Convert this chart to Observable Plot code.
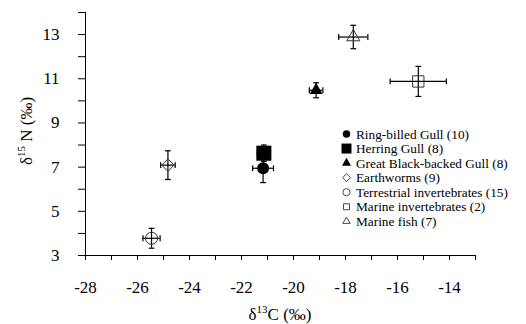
<!DOCTYPE html>
<html>
<head>
<meta charset="utf-8">
<script src="https://cdn.jsdelivr.net/npm/d3@7"></script>
<script src="https://cdn.jsdelivr.net/npm/@observablehq/plot@0.6"></script>
<style>
  html, body { margin: 0; padding: 0; background: #fff; }
  #chart { width: 526px; height: 324px; overflow: hidden; }
  #chart svg, #chart svg text { font-family: "Liberation Serif", "Times New Roman", serif !important; }
</style>
</head>
<body>
<div id="chart"></div>
<script>
// ---- data ----
const groups = ["Ring-billed Gull", "Herring Gull", "Great Black-backed Gull", "Earthworms", "Terrestrial invertebrates", "Marine invertebrates", "Marine fish"];
const sampleSizes = [10, 8, 8, 9, 15, 2, 7];
const d13C = [-21.17, -21.14, -19.13, -24.83, -25.46, -15.20, -17.70];
const d13C_sd = [0.40, 0.25, 0.26, 0.28, 0.33, 1.08, 0.56];
const d15N = [6.95, 7.63, 10.48, 7.09, 3.78, 10.88, 12.89];
const d15N_sd = [0.65, 0.37, 0.34, 0.65, 0.45, 0.68, 0.53];
const xTicks = d3.range(-28, -12);
const yTicks = d3.range(3, 15);

// ---- styles ----
const symbols = ["circle", "square", "triangle", "diamond2", "circle", "square2", "triangle2"];
const d3symbols = [d3.symbolCircle, d3.symbolSquare, d3.symbolTriangle, d3.symbolDiamond2, d3.symbolCircle, d3.symbolSquare2, d3.symbolTriangle2];
const filled = [true, true, true, false, false, false, false];
const radii = [6, 8.5, 4.8, 5.6, 6, 7.2, 6.2];
const drawOrder = [6, 5, 3, 4, 2, 1, 0];

const idx = d3.range(groups.length);
const hCap = { draw(ctx, size) { const r = Math.sqrt(size / Math.PI); ctx.moveTo(-r, 0); ctx.lineTo(r, 0); } };
const vCap = { draw(ctx, size) { const r = Math.sqrt(size / Math.PI); ctx.moveTo(0, -r); ctx.lineTo(0, r); } };

const markerMarks = drawOrder.map(i => Plot.dot([i], {
  x: j => d13C[j], y: j => d15N[j],
  symbol: symbols[i], r: radii[i],
  fill: filled[i] ? "#000" : "none",
  stroke: filled[i] ? "none" : "#333",
  strokeWidth: 1
}));

const svg = Plot.plot({
  width: 526, height: 324,
  marginLeft: 85, marginRight: 51, marginTop: 12, marginBottom: 69,
  style: { fontFamily: "Liberation Serif", fontSize: "17px", color: "#000", background: "#fff" },
  x: { domain: [-28, -13], ticks: xTicks, tickFormat: d => (d % 2 === 0 ? String(d) : ""), tickSize: 5, tickPadding: 20, label: null },
  y: { domain: [3, 14], ticks: yTicks, tickFormat: d => (d % 2 === 1 ? String(d) : ""), tickSize: 7, tickPadding: 19, label: null },
  marks: [
    Plot.ruleX([-28], { stroke: "#000" }),
    Plot.ruleY([3], { stroke: "#000" }),
    // error bars
    Plot.ruleX(idx, { x: i => d13C[i], y1: i => d15N[i] - d15N_sd[i], y2: i => d15N[i] + d15N_sd[i], stroke: "#000", strokeWidth: 1.2 }),
    Plot.ruleY(idx, { y: i => d15N[i], x1: i => d13C[i] - d13C_sd[i], x2: i => d13C[i] + d13C_sd[i], stroke: "#000", strokeWidth: 1.2 }),
    Plot.dot(idx, { x: i => d13C[i], y: i => d15N[i] + d15N_sd[i], symbol: hCap, r: 2.9, stroke: "#000", strokeWidth: 1.2 }),
    Plot.dot(idx, { x: i => d13C[i], y: i => d15N[i] - d15N_sd[i], symbol: hCap, r: 2.9, stroke: "#000", strokeWidth: 1.2 }),
    Plot.dot(idx, { x: i => d13C[i] + d13C_sd[i], y: i => d15N[i], symbol: vCap, r: 2.9, stroke: "#000", strokeWidth: 1.2 }),
    Plot.dot(idx, { x: i => d13C[i] - d13C_sd[i], y: i => d15N[i], symbol: vCap, r: 2.9, stroke: "#000", strokeWidth: 1.2 }),
    ...markerMarks
  ]
});

const sel = d3.select(svg);
sel.selectAll("text").attr("fill", "#000");

// axis titles
const xt = sel.append("text").attr("x", 280).attr("y", 320).attr("text-anchor", "middle").attr("font-size", 17).attr("fill", "#000");
xt.append("tspan").text("δ");
xt.append("tspan").attr("font-size", 11).attr("dy", -7).text("13");
xt.append("tspan").attr("dy", 7).text("C (‰)");

const yt = sel.append("text").attr("transform", "translate(32,131) rotate(-90)").attr("text-anchor", "middle").attr("font-size", 17).attr("fill", "#000");
yt.append("tspan").text("δ");
yt.append("tspan").attr("font-size", 11).attr("dy", -7).text("15");
yt.append("tspan").attr("dy", 7).text(" N (‰)");

// legend
const legendSizes = [44, 100, 36, 40, 40, 45, 38];
const lg = sel.append("g").attr("transform", "translate(346.5,134)");
idx.forEach(i => {
  const row = lg.append("g").attr("transform", `translate(0,${i * 14.55})`);
  row.append("path")
    .attr("d", d3.symbol(d3symbols[i], legendSizes[i])())
    .attr("fill", filled[i] ? "#000" : "none")
    .attr("stroke", filled[i] ? "none" : "#333")
    .attr("stroke-width", 0.9);
  row.append("text").attr("x", 9.5).attr("y", 4.5).attr("text-anchor", "start").attr("font-size", 13.3).attr("fill", "#000")
    .text(`${groups[i]} (${sampleSizes[i]})`);
});

document.getElementById("chart").appendChild(svg);
</script>
</body>
</html>
